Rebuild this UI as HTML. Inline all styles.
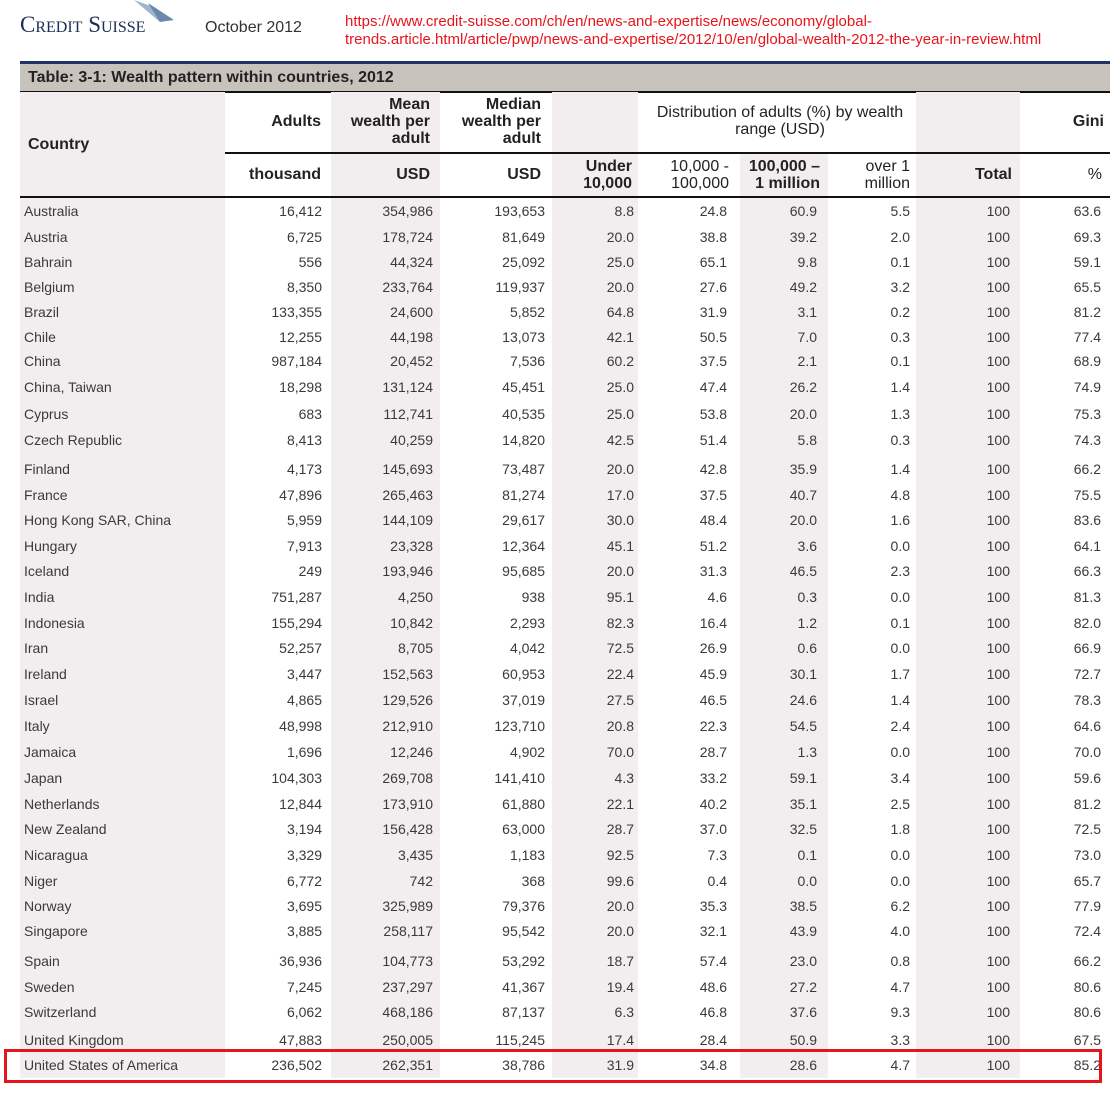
<!DOCTYPE html>
<html><head><meta charset="utf-8"><style>
body{margin:0;width:1114px;height:1093px;background:#fff;position:relative;overflow:hidden;font-family:"Liberation Sans",sans-serif;}
.a{position:absolute}
.sh{position:absolute;top:92px;height:986px;background:#f2eef0}
.hd{position:absolute;font-weight:bold;font-size:16px;color:#222;text-align:right;line-height:17px}
.r{position:absolute;left:0;height:18px;line-height:18px;font-size:14px;color:#3a3a3a;white-space:nowrap}
.r span{position:absolute;text-align:right}
.r span:nth-child(1){left:24px;text-align:left}
.r span:nth-child(2){right:-322px}
.r span:nth-child(3){right:-433px}
.r span:nth-child(4){right:-545px}
.r span:nth-child(5){right:-634px}
.r span:nth-child(6){right:-727px}
.r span:nth-child(7){right:-817px}
.r span:nth-child(8){right:-910px}
.r span:nth-child(9){right:-1010px}
.r span:nth-child(10){right:-1101px}
</style></head><body>
<div class="a" style="left:20px;top:12px;font-family:'Liberation Serif',serif;font-size:23px;color:#1c2d55;font-variant:small-caps">Credit Suisse</div>
<svg class="a" style="left:130px;top:0" width="50" height="26"><path d="M4 0 L30 22 L26 8 Z" fill="#9fb4cf"/><path d="M18 3 L44 20 L30 22 Z" fill="#6d88ad"/></svg>
<div class="a" style="left:205px;top:19px;font-size:16px;color:#333">October 2012</div>
<div class="a" style="left:345px;top:13px;font-size:15px;color:#e8141c;line-height:18px">https://www.credit-suisse.com/ch/en/news-and-expertise/news/economy/global-<br>trends.article.html/article/pwp/news-and-expertise/2012/10/en/global-wealth-2012-the-year-in-review.html</div>
<div class="a" style="left:20px;top:61px;width:1090px;height:3px;background:#1f3464"></div>
<div class="a" style="left:20px;top:64px;width:1090px;height:27px;background:#c8c2bc"></div>
<div class="a" style="left:28px;top:69px;font-size:16px;font-weight:bold;color:#222">Table: 3-1: Wealth pattern within countries, 2012</div>
<div class="a" style="left:20px;top:91px;width:1090px;height:2px;background:#111"></div>
<div class="sh" style="left:20px;width:205px"></div>
<div class="sh" style="left:331px;width:109px"></div>
<div class="sh" style="left:552px;width:86px"></div>
<div class="sh" style="left:740px;width:88px;top:154px;height:924px"></div>
<div class="sh" style="left:916px;width:104px"></div>
<div class="a" style="left:225px;top:152px;width:885px;height:2px;background:#111"></div>
<div class="a" style="left:20px;top:196px;width:1090px;height:2px;background:#111"></div>
<div class="hd" style="left:28px;top:136px;text-align:left">Country</div>
<div class="hd" style="right:793px;top:113px">Adults</div>
<div class="hd" style="right:684px;top:96px">Mean<br>wealth per<br>adult</div>
<div class="hd" style="right:573px;top:96px">Median<br>wealth per<br>adult</div>
<div class="hd" style="left:640px;width:280px;top:104px;text-align:center;font-weight:normal">Distribution of adults (%) by wealth<br>range (USD)</div>
<div class="hd" style="right:10px;top:113px">Gini</div>
<div class="hd" style="right:793px;top:166px">thousand</div>
<div class="hd" style="right:684px;top:166px">USD</div>
<div class="hd" style="right:573px;top:166px">USD</div>
<div class="hd" style="right:482px;top:158px">Under<br>10,000</div>
<div class="hd" style="right:385px;top:158px;font-weight:normal">10,000 -<br>100,000</div>
<div class="hd" style="right:294px;top:158px">100,000 –<br>1 million</div>
<div class="hd" style="right:204px;top:158px;font-weight:normal">over 1<br>million</div>
<div class="hd" style="right:102px;top:166px">Total</div>
<div class="hd" style="right:12px;top:166px;font-weight:normal">%</div>

<div class="r" style="top:202px"><span>Australia</span><span>16,412</span><span>354,986</span><span>193,653</span><span>8.8</span><span>24.8</span><span>60.9</span><span>5.5</span><span>100</span><span>63.6</span></div>
<div class="r" style="top:228px"><span>Austria</span><span>6,725</span><span>178,724</span><span>81,649</span><span>20.0</span><span>38.8</span><span>39.2</span><span>2.0</span><span>100</span><span>69.3</span></div>
<div class="r" style="top:253px"><span>Bahrain</span><span>556</span><span>44,324</span><span>25,092</span><span>25.0</span><span>65.1</span><span>9.8</span><span>0.1</span><span>100</span><span>59.1</span></div>
<div class="r" style="top:278px"><span>Belgium</span><span>8,350</span><span>233,764</span><span>119,937</span><span>20.0</span><span>27.6</span><span>49.2</span><span>3.2</span><span>100</span><span>65.5</span></div>
<div class="r" style="top:303px"><span>Brazil</span><span>133,355</span><span>24,600</span><span>5,852</span><span>64.8</span><span>31.9</span><span>3.1</span><span>0.2</span><span>100</span><span>81.2</span></div>
<div class="r" style="top:328px"><span>Chile</span><span>12,255</span><span>44,198</span><span>13,073</span><span>42.1</span><span>50.5</span><span>7.0</span><span>0.3</span><span>100</span><span>77.4</span></div>
<div class="r" style="top:352px"><span>China</span><span>987,184</span><span>20,452</span><span>7,536</span><span>60.2</span><span>37.5</span><span>2.1</span><span>0.1</span><span>100</span><span>68.9</span></div>
<div class="r" style="top:378px"><span>China, Taiwan</span><span>18,298</span><span>131,124</span><span>45,451</span><span>25.0</span><span>47.4</span><span>26.2</span><span>1.4</span><span>100</span><span>74.9</span></div>
<div class="r" style="top:405px"><span>Cyprus</span><span>683</span><span>112,741</span><span>40,535</span><span>25.0</span><span>53.8</span><span>20.0</span><span>1.3</span><span>100</span><span>75.3</span></div>
<div class="r" style="top:431px"><span>Czech Republic</span><span>8,413</span><span>40,259</span><span>14,820</span><span>42.5</span><span>51.4</span><span>5.8</span><span>0.3</span><span>100</span><span>74.3</span></div>
<div class="r" style="top:460px"><span>Finland</span><span>4,173</span><span>145,693</span><span>73,487</span><span>20.0</span><span>42.8</span><span>35.9</span><span>1.4</span><span>100</span><span>66.2</span></div>
<div class="r" style="top:486px"><span>France</span><span>47,896</span><span>265,463</span><span>81,274</span><span>17.0</span><span>37.5</span><span>40.7</span><span>4.8</span><span>100</span><span>75.5</span></div>
<div class="r" style="top:511px"><span>Hong Kong SAR, China</span><span>5,959</span><span>144,109</span><span>29,617</span><span>30.0</span><span>48.4</span><span>20.0</span><span>1.6</span><span>100</span><span>83.6</span></div>
<div class="r" style="top:537px"><span>Hungary</span><span>7,913</span><span>23,328</span><span>12,364</span><span>45.1</span><span>51.2</span><span>3.6</span><span>0.0</span><span>100</span><span>64.1</span></div>
<div class="r" style="top:562px"><span>Iceland</span><span>249</span><span>193,946</span><span>95,685</span><span>20.0</span><span>31.3</span><span>46.5</span><span>2.3</span><span>100</span><span>66.3</span></div>
<div class="r" style="top:588px"><span>India</span><span>751,287</span><span>4,250</span><span>938</span><span>95.1</span><span>4.6</span><span>0.3</span><span>0.0</span><span>100</span><span>81.3</span></div>
<div class="r" style="top:614px"><span>Indonesia</span><span>155,294</span><span>10,842</span><span>2,293</span><span>82.3</span><span>16.4</span><span>1.2</span><span>0.1</span><span>100</span><span>82.0</span></div>
<div class="r" style="top:639px"><span>Iran</span><span>52,257</span><span>8,705</span><span>4,042</span><span>72.5</span><span>26.9</span><span>0.6</span><span>0.0</span><span>100</span><span>66.9</span></div>
<div class="r" style="top:665px"><span>Ireland</span><span>3,447</span><span>152,563</span><span>60,953</span><span>22.4</span><span>45.9</span><span>30.1</span><span>1.7</span><span>100</span><span>72.7</span></div>
<div class="r" style="top:691px"><span>Israel</span><span>4,865</span><span>129,526</span><span>37,019</span><span>27.5</span><span>46.5</span><span>24.6</span><span>1.4</span><span>100</span><span>78.3</span></div>
<div class="r" style="top:717px"><span>Italy</span><span>48,998</span><span>212,910</span><span>123,710</span><span>20.8</span><span>22.3</span><span>54.5</span><span>2.4</span><span>100</span><span>64.6</span></div>
<div class="r" style="top:743px"><span>Jamaica</span><span>1,696</span><span>12,246</span><span>4,902</span><span>70.0</span><span>28.7</span><span>1.3</span><span>0.0</span><span>100</span><span>70.0</span></div>
<div class="r" style="top:769px"><span>Japan</span><span>104,303</span><span>269,708</span><span>141,410</span><span>4.3</span><span>33.2</span><span>59.1</span><span>3.4</span><span>100</span><span>59.6</span></div>
<div class="r" style="top:795px"><span>Netherlands</span><span>12,844</span><span>173,910</span><span>61,880</span><span>22.1</span><span>40.2</span><span>35.1</span><span>2.5</span><span>100</span><span>81.2</span></div>
<div class="r" style="top:820px"><span>New Zealand</span><span>3,194</span><span>156,428</span><span>63,000</span><span>28.7</span><span>37.0</span><span>32.5</span><span>1.8</span><span>100</span><span>72.5</span></div>
<div class="r" style="top:846px"><span>Nicaragua</span><span>3,329</span><span>3,435</span><span>1,183</span><span>92.5</span><span>7.3</span><span>0.1</span><span>0.0</span><span>100</span><span>73.0</span></div>
<div class="r" style="top:872px"><span>Niger</span><span>6,772</span><span>742</span><span>368</span><span>99.6</span><span>0.4</span><span>0.0</span><span>0.0</span><span>100</span><span>65.7</span></div>
<div class="r" style="top:897px"><span>Norway</span><span>3,695</span><span>325,989</span><span>79,376</span><span>20.0</span><span>35.3</span><span>38.5</span><span>6.2</span><span>100</span><span>77.9</span></div>
<div class="r" style="top:922px"><span>Singapore</span><span>3,885</span><span>258,117</span><span>95,542</span><span>20.0</span><span>32.1</span><span>43.9</span><span>4.0</span><span>100</span><span>72.4</span></div>
<div class="r" style="top:952px"><span>Spain</span><span>36,936</span><span>104,773</span><span>53,292</span><span>18.7</span><span>57.4</span><span>23.0</span><span>0.8</span><span>100</span><span>66.2</span></div>
<div class="r" style="top:978px"><span>Sweden</span><span>7,245</span><span>237,297</span><span>41,367</span><span>19.4</span><span>48.6</span><span>27.2</span><span>4.7</span><span>100</span><span>80.6</span></div>
<div class="r" style="top:1003px"><span>Switzerland</span><span>6,062</span><span>468,186</span><span>87,137</span><span>6.3</span><span>46.8</span><span>37.6</span><span>9.3</span><span>100</span><span>80.6</span></div>
<div class="r" style="top:1031px"><span>United Kingdom</span><span>47,883</span><span>250,005</span><span>115,245</span><span>17.4</span><span>28.4</span><span>50.9</span><span>3.3</span><span>100</span><span>67.5</span></div>
<div class="r" style="top:1056px"><span>United States of America</span><span>236,502</span><span>262,351</span><span>38,786</span><span>31.9</span><span>34.8</span><span>28.6</span><span>4.7</span><span>100</span><span>85.2</span></div>
<div class="a" style="left:4px;top:1049px;width:1098px;height:34px;border:3px solid #e8141c;box-sizing:border-box"></div>
</body></html>
